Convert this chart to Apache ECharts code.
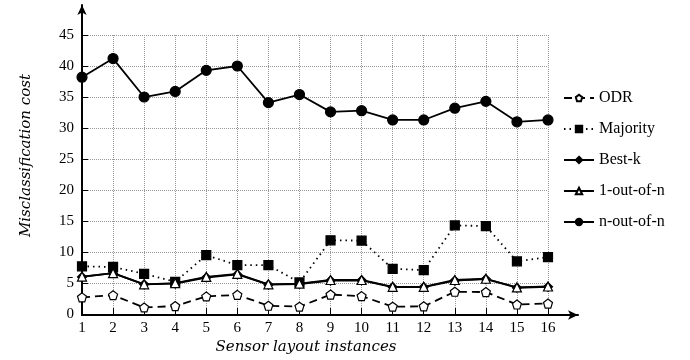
<!DOCTYPE html>
<html>
<head>
<meta charset="utf-8">
<script src="https://cdn.jsdelivr.net/npm/echarts@6/dist/echarts.min.js"></script>
<style>
    html, body { margin: 0; padding: 0; background: #fff; }
    #chart { width: 690px; height: 360px; }
</style>
</head>
<body>
<div id="chart"></div>
<script>
// sensor layout instances 1..16
var instances = [1, 2, 3, 4, 5, 6, 7, 8, 9, 10, 11, 12, 13, 14, 15, 16];

var odr = [2.7, 3.05, 1.07, 1.3, 2.85, 3.1, 1.35, 1.2, 3.15, 2.9, 1.2, 1.25, 3.6, 3.55, 1.55, 1.7];
var majority = [7.7, 7.6, 6.5, 5.2, 9.5, 7.9, 7.9, 5.1, 11.9, 11.85, 7.3, 7.1, 14.3, 14.2, 8.5, 9.2];
var bestK = [6.0, 6.6, 4.8, 4.9, 5.9, 6.4, 4.75, 4.85, 5.4, 5.45, 4.35, 4.35, 5.4, 5.65, 4.25, 4.4];
var oneOutOfN = [6.05, 6.6, 4.8, 5.0, 6.0, 6.5, 4.8, 4.9, 5.5, 5.5, 4.4, 4.4, 5.5, 5.7, 4.3, 4.45];
var nOutOfN = [38.2, 41.2, 35.0, 35.9, 39.3, 40.0, 34.1, 35.4, 32.6, 32.8, 31.3, 31.3, 33.2, 34.3, 31.0, 31.3];

var legendNames = ['ODR', 'Majority', 'Best-k', '1-out-of-n', 'n-out-of-n'];

var serifFont = 'Liberation Serif';
var italicFont = 'DejaVu Serif';
var pentagon = 'path://M0,-1 L0.951,-0.309 L0.588,0.809 L-0.588,0.809 L-0.951,-0.309 Z';

var toPairs = function (values) {
    return values.map(function (v, i) {
        return [instances[i], v];
    });
};

var makeSeries = function (name, values, lineType, symbol, size, fill) {
    return {
        name: name,
        type: 'line',
        xAxisIndex: 0,
        yAxisIndex: 0,
        data: toPairs(values),
        symbol: symbol,
        symbolSize: size,
        showAllSymbol: true,
        lineStyle: { color: '#000', width: 1.8, type: lineType },
        itemStyle: { color: fill, borderColor: '#000', borderWidth: 1.2 },
        emphasis: { disabled: true },
        animation: false
    };
};

// arrow axes drawn on a second, slightly larger grid
var arrowAxis = function () {
    return {
        gridIndex: 1,
        type: 'value',
        min: 0,
        max: 1,
        axisLine: {
            show: true,
            symbol: ['none', 'arrow'],
            symbolSize: [7, 10],
            lineStyle: { color: '#000', width: 2 }
        },
        axisTick: { show: false },
        axisLabel: { show: false },
        splitLine: { show: false }
    };
};

var myChart = echarts.init(document.getElementById('chart'));

var option = {
    backgroundColor: '#fff',
    grid: [
        { left: 82, right: 142, top: 35, bottom: 45 },
        { left: 82, right: 112, top: 5, bottom: 45 }
    ],
    legend: {
        data: legendNames,
        orient: 'vertical',
        left: 558,
        top: 85,
        itemWidth: 30,
        itemHeight: 8,
        itemGap: 15,
        lineStyle: { width: 2 },
        textStyle: { fontFamily: serifFont, fontSize: 16, color: '#000' },
        selectedMode: false
    },
    xAxis: [
        {
            gridIndex: 0,
            type: 'value',
            min: 1,
            max: 16,
            interval: 1,
            name: 'Sensor layout instances',
            nameLocation: 'middle',
            nameGap: 24,
            nameTextStyle: {
                fontFamily: italicFont, fontStyle: 'italic', fontSize: 15, color: '#000',
                padding: [0, 18, 0, 0]
            },
            axisLine: { show: false },
            axisTick: { show: true, inside: true, length: 6, lineStyle: { color: '#000', width: 1 } },
            axisLabel: { fontFamily: serifFont, fontSize: 15, color: '#000', margin: 6 },
            splitLine: { show: true, lineStyle: { color: '#999', type: 'dotted', width: 1 } }
        },
        arrowAxis()
    ],
    yAxis: [
        {
            gridIndex: 0,
            type: 'value',
            min: 0,
            max: 45,
            interval: 5,
            name: 'Misclassification cost',
            nameLocation: 'middle',
            nameGap: 48,
            nameTextStyle: {
                fontFamily: italicFont, fontStyle: 'italic', fontSize: 15, color: '#000',
                padding: [0, 0, 0, 38]
            },
            axisLine: { show: false },
            axisTick: { show: true, inside: true, length: 6, lineStyle: { color: '#000', width: 1 } },
            axisLabel: { fontFamily: serifFont, fontSize: 15, color: '#000', margin: 8 },
            splitLine: { show: true, lineStyle: { color: '#999', type: 'dotted', width: 1 } }
        },
        arrowAxis()
    ],
    series: [
        makeSeries('n-out-of-n', nOutOfN, 'solid', 'circle', 10, '#000'),
        makeSeries('Majority', majority, [1.5, 4], 'rect', 9, '#000'),
        makeSeries('Best-k', bestK, 'solid', 'diamond', 9, '#000'),
        makeSeries('1-out-of-n', oneOutOfN, 'solid', 'triangle', 9, '#fff'),
        makeSeries('ODR', odr, [8, 5], pentagon, 9, '#fff')
    ]
};

myChart.setOption(option);
</script>
</body>
</html>
